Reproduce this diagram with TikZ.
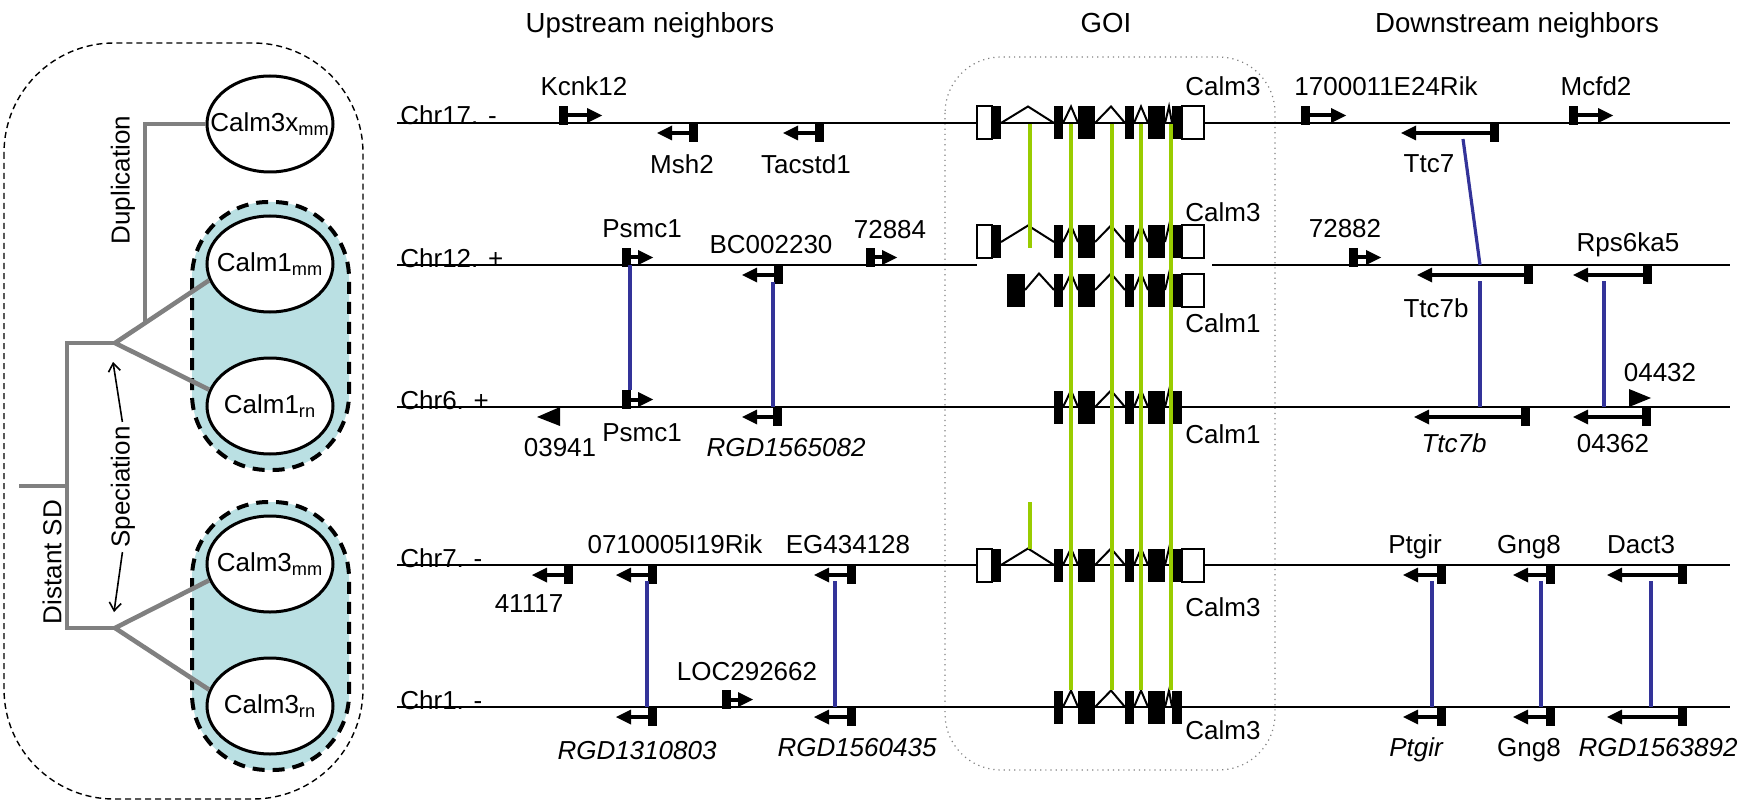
\documentclass[tikz,border=0pt]{standalone}
\usepackage{fontspec}
\setmainfont{Liberation Sans}
\usetikzlibrary{positioning,shapes.geometric,arrows.meta}

\definecolor{specfill}{HTML}{BAE0E3}
\definecolor{orthblue}{HTML}{333399}
\definecolor{linkgreen}{HTML}{99CC00}
\definecolor{treegray}{HTML}{808080}

\tikzset{
  lbl/.style={inner sep=0pt,anchor=base,font=\fontsize{13}{15}\selectfont},
  ilbl/.style={lbl,font=\fontsize{13}{15}\selectfont\itshape},
  hdr/.style={inner sep=0pt,anchor=base,font=\fontsize{13.8}{16}\selectfont},
  chrom/.style={line width=0.8pt},
  shaft/.style={line width=2pt},
  intron/.style={line width=1pt},
  utr/.style={fill=white,draw=black,line width=1pt},
  orthline/.style={orthblue,line width=1.6pt},
  exlink/.style={linkgreen,line width=2.2pt},
  tree/.style={treegray,line width=2.3pt},
  paralog/.style={ellipse,draw,line width=1.5pt,fill=white,minimum width=63pt,
    minimum height=48pt,inner sep=0pt,font=\fontsize{13}{15}\selectfont},
  specbox/.style={fill=specfill,draw=black,line width=2pt,
    dash pattern=on 6pt off 4pt,rounded corners=38pt},
}

% gene glyphs: box position, chromosome y, arrow tip
\newcommand{\fwdgene}[3]{%
  \fill (#1,{#2-17}) rectangle ({#1+9},{#2+2});
  \draw[shaft] ({#1+9},{#2-7.5}) -- ({#3-13},{#2-7.5});
  \fill (#3,{#2-7.5}) -- ({#3-15},{#2-15}) -- ({#3-15},{#2}) -- cycle;
}
\newcommand{\revgene}[3]{%
  \fill ({#1-9},{#2+1}) rectangle (#1,{#2+19});
  \draw[shaft] ({#1-9},{#2+10}) -- ({#3+13},{#2+10});
  \fill (#3,{#2+10}) -- ({#3+15},{#2+2.5}) -- ({#3+15},{#2+17.5}) -- cycle;
}
% exon structures of the GOI
\newcommand{\calmcore}[1]{%
  \foreach \a/\b in {1054/1063,1078/1095,1125/1134,1148/1165,1172/1182}
    \fill (\a,{#1-16.5}) rectangle (\b,{#1+16.5});
  \foreach \a/\p/\b in {1063/1071/1078,1095/1111/1125,1134/1141/1148,1165/1169/1172}
    \draw[intron] (\a,#1) -- (\p,{#1-16.5}) -- (\b,#1);
}
\newcommand{\calmstart}[1]{%
  \draw[utr] (977,{#1-16.5}) rectangle (992,{#1+16.5});
  \fill (992,{#1-16.5}) rectangle (1001,{#1+16.5});
  \draw[intron] (1001,#1) -- (1028,{#1-16.5}) -- (1054,#1);
}
\newcommand{\calmend}[1]{%
  \draw[utr] (1182,{#1-16.5}) rectangle (1204,{#1+16.5});
}

\begin{document}
\begin{tikzpicture}[x=0.5pt,y=-0.5pt]
\useasboundingbox (0,0) rectangle (1744,802);

% left panel: gene tree
\draw[dash pattern=on 3pt off 2pt,line width=0.7pt,rounded corners=55pt] (4,43) rectangle (363,799);
\draw[specbox] (192,202) rectangle (349,470);
\draw[specbox] (192,502) rectangle (349,770);

\coordinate (dup) at (145,323);
\coordinate (spec1) at (115,343);
\coordinate (spec2) at (115,628);
\coordinate (sd) at (67,486);
\coordinate (root) at (19,486);

\node[paralog] (c3x) at (270,124) {\makebox[0pt]{Calm3x\textsubscript{mm}}};
\node[paralog] (c1mm) at (270,264) {\makebox[0pt]{Calm1\textsubscript{mm}}};
\node[paralog] (c1rn) at (270,406) {\makebox[0pt]{Calm1\textsubscript{rn}}};
\node[paralog] (c3mm) at (270,564) {\makebox[0pt]{Calm3\textsubscript{mm}}};
\node[paralog] (c3rn) at (270,706) {\makebox[0pt]{Calm3\textsubscript{rn}}};

\draw[tree] (c3x.west) -| (dup);
\draw[tree] (c1rn.165) -- (spec1) -- (c1mm.195);
\draw[tree] (c3rn.165) -- (spec2) -- (c3mm.195);
\draw[tree] (spec1) -- (67,343) -- (67,628) -- (spec2);
\draw[tree] (root) -- (sd);

\node[lbl,rotate=90,anchor=center] (duplab) at (123,180) {Duplication};
\node[lbl,rotate=90,anchor=center] (speclab) at (123,487) {Speciation};
\node[lbl,rotate=90,anchor=center] (sdlab) at (52,562) {Distant SD};
\coordinate (spec1tip) at (113,362);
\coordinate (spec2tip) at (114,612);
\draw[-{Straight Barb[length=4pt,width=6pt]},line width=0.8pt,shorten <=2pt] (speclab.east) -- (spec1tip);
\draw[-{Straight Barb[length=4pt,width=6pt]},line width=0.8pt,shorten <=2pt] (speclab.west) -- (spec2tip);

% headers
\node[hdr] (up) at (650,33) {Upstream neighbors};
\node[hdr] (goi) at (1106,33) {GOI};
\node[hdr] (down) at (1517,33) {Downstream neighbors};

\draw[gray,dotted,line width=0.6pt,rounded corners=28pt] (945,57) rectangle (1275,770);

% chromosomes
\draw[chrom] (397,123) -- (1730,123);
\draw[chrom] (397,265) -- (977,265);
\draw[chrom] (1212,265) -- (1730,265);
\draw[chrom] (397,407) -- (1730,407);
\draw[chrom] (397,565) -- (1730,565);
\draw[chrom] (397,707) -- (1730,707);
\node[lbl,anchor=base west] (chr17) at (400,125) {Chr17. -};
\node[lbl,anchor=base west] (chr12) at (400,267) {Chr12. +};
\node[lbl,anchor=base west] (chr6) at (400,409) {Chr6. +};
\node[lbl,anchor=base west] (chr7) at (400,567) {Chr7. -};
\node[lbl,anchor=base west] (chr1) at (400,709) {Chr1. -};

% Chr17
\fwdgene{559}{123}{602}
\revgene{698}{123}{657}
\revgene{824}{123}{783}
\fwdgene{1301}{123}{1346}
\revgene{1499}{123}{1401}
\fwdgene{1569}{123}{1613}
\node[lbl] (kcnk12) at (584,96) {Kcnk12};
\node[lbl] (msh2) at (682,174) {Msh2};
\node[lbl] (tacstd1) at (806,174) {Tacstd1};
\node[lbl] (rik1700) at (1386,96) {1700011E24Rik};
\node[lbl] (ttc7) at (1429,173) {Ttc7};
\node[lbl] (mcfd2) at (1596,96) {Mcfd2};

% Chr12
\fwdgene{622}{265}{653}
\revgene{783}{265}{742}
\fwdgene{866}{265}{897}
\fwdgene{1349}{265}{1381}
\revgene{1533}{265}{1417}
\revgene{1652}{265}{1573}
\node[lbl] (psmc1a) at (642,238) {Psmc1};
\node[lbl] (bc002230) at (771,254) {BC002230};
\node[lbl] (g72884) at (890,239) {72884};
\node[lbl] (g72882) at (1345,238) {72882};
\node[lbl] (ttc7b) at (1436,317) {Ttc7b};
\node[lbl] (rps6ka5) at (1628,251) {Rps6ka5};

% Chr6
\fill (560,407) -- (560,426) -- (537,417) -- cycle;
\fwdgene{622}{407}{653}
\revgene{782}{407}{742}
\revgene{1530}{407}{1414}
\revgene{1651}{407}{1573}
\fill (1629,389) -- (1629,407) -- (1651,398) -- cycle;
\node[lbl] (g03941) at (560,456) {03941};
\node[lbl] (psmc1b) at (642,441) {Psmc1};
\node[ilbl] (rgd1565082) at (786,456) {RGD1565082};
\node[ilbl] (ttc7bb) at (1454,452) {Ttc7b};
\node[lbl] (g04432) at (1660,381) {04432};
\node[lbl] (g04362) at (1613,452) {04362};

% Chr7
\revgene{573}{565}{532}
\revgene{657}{565}{616}
\revgene{856}{565}{814}
\revgene{1446}{565}{1403}
\revgene{1555}{565}{1513}
\revgene{1687}{565}{1607}
\node[lbl] (g41117) at (529,612) {41117};
\node[lbl] (rik0710) at (675,553) {0710005I19Rik};
\node[lbl] (eg434128) at (848,553) {EG434128};
\node[lbl] (ptgira) at (1415,553) {Ptgir};
\node[lbl] (gng8a) at (1529,553) {Gng8};
\node[lbl] (dact3) at (1641,553) {Dact3};

% Chr1
\revgene{657}{707}{616}
\fwdgene{722}{707}{753}
\revgene{856}{707}{814}
\revgene{1446}{707}{1403}
\revgene{1555}{707}{1513}
\revgene{1687}{707}{1607}
\node[lbl] (loc292662) at (747,680) {LOC292662};
\node[ilbl] (rgd1310803) at (637,759) {RGD1310803};
\node[ilbl] (rgd1560435) at (857,756) {RGD1560435};
\node[ilbl] (ptgirb) at (1416,756) {Ptgir};
\node[lbl] (gng8b) at (1529,756) {Gng8};
\node[ilbl] (rgd1563892) at (1658,756) {RGD1563892};

% GOI
\calmstart{123}\calmcore{123}\calmend{123}
\calmstart{242}\calmcore{242}\calmend{242}
\fill (1007,273.5) rectangle (1025,306.5);
\draw[intron] (1025,290) -- (1039,273.5) -- (1054,290);
\calmcore{290}\calmend{290}
\calmcore{407}
\calmstart{565}\calmcore{565}\calmend{565}
\calmcore{707}
\node[lbl,anchor=base west] (calm3a) at (1185,96) {Calm3};
\node[lbl,anchor=base west] (calm3b) at (1185,222) {Calm3};
\node[lbl,anchor=base west] (calm1a) at (1185,332) {Calm1};
\node[lbl,anchor=base west] (calm1b) at (1185,443) {Calm1};
\node[lbl,anchor=base west] (calm3c) at (1185,616) {Calm3};
\node[lbl,anchor=base west] (calm3d) at (1185,739) {Calm3};

% exon links
\foreach \x in {1071,1112,1141,1171}
  \draw[exlink] (\x,124) -- (\x,690);
\draw[exlink] (1030,124) -- (1030,248);
\draw[exlink] (1030,502) -- (1030,549);

% orthologous neighbours
\path (630,265) coordinate (o1a) (630,390) coordinate (o1b)
      (773,282) coordinate (o2a) (773,407) coordinate (o2b)
      (1463,139) coordinate (o3a) (1480,265) coordinate (o3b)
      (1480,281) coordinate (o4a) (1480,407) coordinate (o4b)
      (1604,281) coordinate (o5a) (1604,407) coordinate (o5b)
      (647,581) coordinate (o6a) (647,707) coordinate (o6b)
      (835,581) coordinate (o7a) (835,707) coordinate (o7b)
      (1432,581) coordinate (o8a) (1432,707) coordinate (o8b)
      (1541,581) coordinate (o9a) (1541,707) coordinate (o9b)
      (1651,581) coordinate (o10a) (1651,707) coordinate (o10b);
\draw[orthline] (o1a) -- (o1b);
\draw[orthline] (o2a) -- (o2b);
\draw[orthline] (o3a) -- (o3b);
\draw[orthline] (o4a) -- (o4b);
\draw[orthline] (o5a) -- (o5b);
\draw[orthline] (o6a) -- (o6b);
\draw[orthline] (o7a) -- (o7b);
\draw[orthline] (o8a) -- (o8b);
\draw[orthline] (o9a) -- (o9b);
\draw[orthline] (o10a) -- (o10b);
\end{tikzpicture}
\end{document}
